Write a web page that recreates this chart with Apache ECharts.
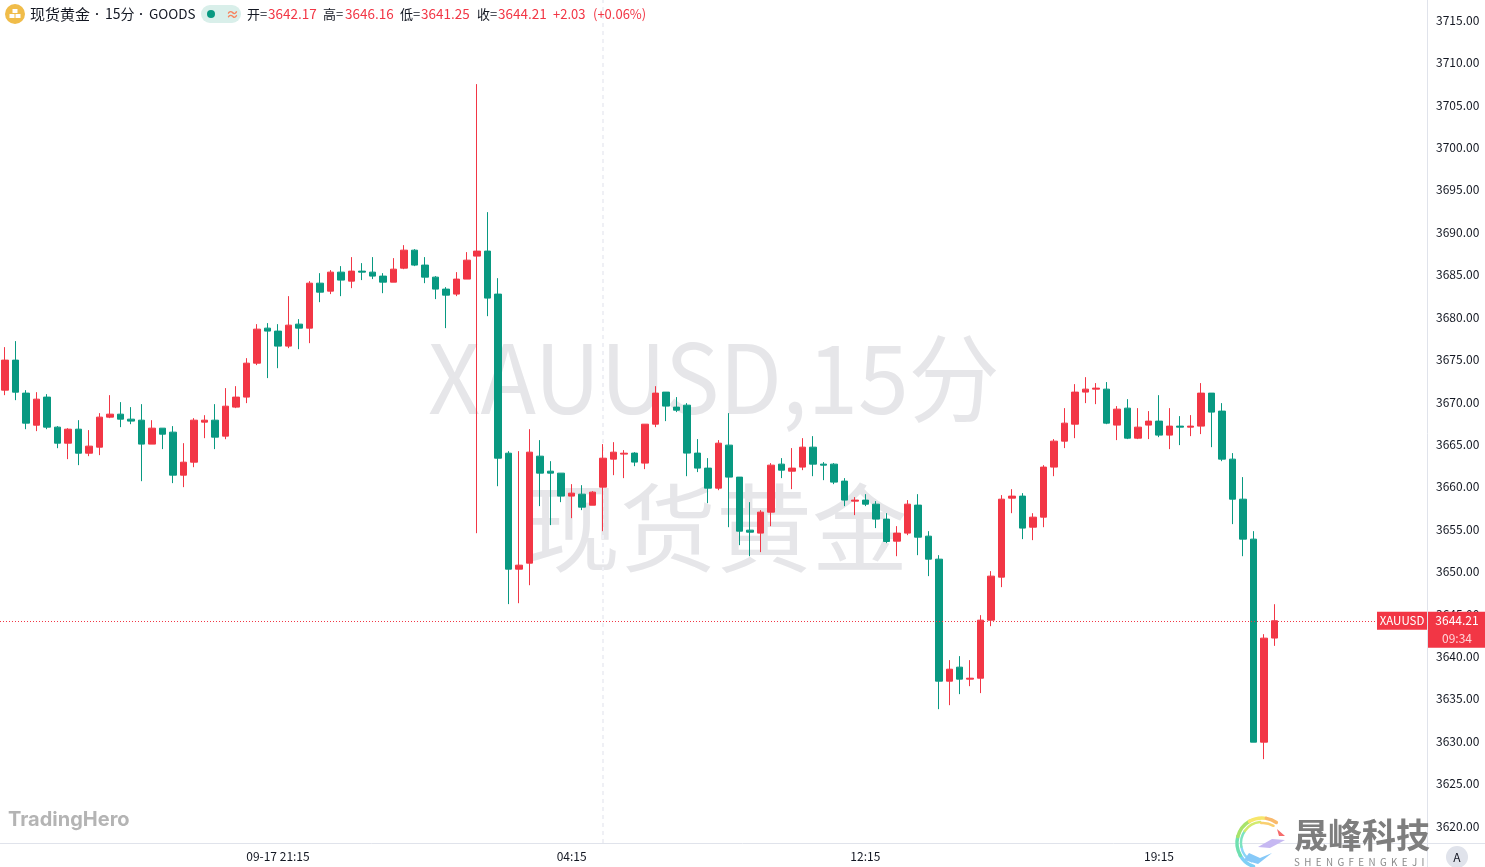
<!DOCTYPE html>
<html>
<head>
<meta charset="utf-8">
<style>html,body{margin:0;padding:0;background:#fff}#c{width:1485px;height:867px}</style>
<script src="https://cdn.jsdelivr.net/npm/echarts@6/dist/echarts.min.js"></script>
</head>
<body>
<div id="c"></div>
<script>
const opens = [3671.39,3674.93,3671.04,3667.26,3670.57,3667.03,3665.14,3666.79,3663.96,3664.67,3668.21,3668.56,3667.97,3667.85,3665.03,3666.91,3666.44,3661.37,3662.90,3667.62,3667.85,3665.97,3669.39,3670.57,3674.57,3678.70,3678.35,3676.58,3679.17,3678.70,3684.00,
3683.06,3685.30,3684.24,3685.42,3685.30,3684.83,3684.12,3685.77,3687.89,3686.13,3684.71,3683.30,3682.71,3684.48,3687.19,3687.78,3682.71,3663.96,3650.29,3651.00,3663.61,3661.84,3661.61,3658.90,3659.13,3657.83,3659.96,3663.26,3663.85,
3663.97,3662.79,3667.38,3671.16,3669.39,3669.62,3663.97,3662.20,3659.84,3664.91,3661.14,3654.89,3654.54,3657.01,3662.67,3661.84,3662.32,3664.67,3662.67,3662.67,3660.67,3658.31,3658.43,3657.95,3656.19,3653.59,3654.54,3657.84,3654.18,
3651.47,3637.09,3638.74,3637.33,3637.44,3644.28,3649.35,3658.66,3658.90,3655.24,3656.42,3662.32,3665.38,3667.38,3671.16,3671.51,3671.51,3667.27,3669.27,3665.73,3667.27,3667.74,3666.09,3667.15,3667.03,3667.15,3671.04,3668.92,3663.26,3658.54,3653.83,3629.90,3642.17];
const closes = [3674.93,3671.15,3667.50,3670.33,3667.03,3665.14,3666.79,3663.96,3664.79,3668.21,3668.56,3667.97,3667.74,3665.03,3666.91,3666.20,3661.37,3662.90,3667.85,3667.85,3665.85,3669.50,3670.57,3674.57,3678.58,3678.35,3676.58,3679.05,3678.70,3684.00,3682.94,
3685.30,3684.36,3685.42,3685.30,3684.83,3684.12,3685.65,3687.89,3686.13,3684.71,3683.30,3682.59,3684.48,3686.71,3687.78,3682.24,3663.37,3650.29,3650.76,3664.08,3661.61,3661.61,3658.90,3659.25,3657.60,3659.37,3663.37,3664.08,3663.96,
3662.91,3667.38,3671.04,3669.51,3669.03,3663.97,3662.20,3659.84,3665.14,3661.14,3654.77,3654.65,3657.01,3662.55,3661.96,3662.20,3664.67,3662.67,3662.55,3660.55,3658.43,3658.43,3657.95,3656.19,3653.55,3654.54,3657.95,3654.06,3651.47,
3637.09,3638.50,3637.33,3637.44,3644.28,3649.47,3658.54,3658.90,3655.13,3656.42,3662.32,3665.38,3667.50,3671.16,3671.51,3671.63,3667.50,3669.15,3665.73,3667.03,3667.74,3666.09,3667.15,3667.03,3667.15,3671.04,3668.80,3663.26,3658.54,3653.83,3629.90,3642.16,3644.21];
const lows = [3670.80,3670.21,3666.79,3666.56,3666.79,3664.55,3663.26,3662.55,3663.61,3663.73,3668.09,3667.03,3667.38,3660.66,3665.03,3664.44,3660.43,3659.96,3662.31,3665.73,3664.44,3665.61,3669.27,3669.86,3674.34,3672.81,3673.98,3676.34,3676.22,3676.93,3681.76,
3682.71,3682.47,3683.41,3684.36,3684.48,3682.82,3684.12,3685.65,3686.01,3684.00,3682.12,3678.70,3682.47,3684.48,3654.53,3680.11,3660.07,3646.17,3646.28,3648.40,3657.72,3655.48,3658.19,3656.30,3657.25,3657.83,3654.77,3661.37,3661.02,
3662.43,3662.08,3667.03,3667.74,3668.80,3661.25,3661.73,3658.07,3659.60,3655.24,3653.12,3651.82,3652.30,3655.36,3661.02,3659.72,3661.96,3661.25,3660.78,3660.31,3657.72,3656.66,3657.72,3655.13,3653.36,3651.82,3654.30,3651.94,3649.47,
3633.79,3634.26,3635.56,3636.50,3635.68,3643.57,3648.17,3656.89,3653.83,3653.71,3655.24,3661.25,3664.56,3665.73,3669.86,3669.74,3667.38,3665.50,3665.62,3665.62,3665.62,3665.85,3664.44,3664.91,3665.97,3666.21,3664.67,3663.02,3655.60,3651.82,3629.90,3627.90,3641.25];
const highs = [3676.46,3677.17,3671.39,3671.15,3670.92,3667.15,3666.91,3667.85,3666.68,3668.68,3670.80,3669.98,3669.39,3669.74,3667.85,3666.91,3667.15,3665.14,3668.09,3668.44,3669.74,3671.63,3671.86,3675.16,3679.17,3679.29,3679.17,3682.47,3679.76,3684.24,3685.18,
3685.54,3686.01,3687.07,3686.36,3687.07,3685.18,3686.95,3688.48,3688.01,3687.07,3684.83,3683.53,3685.30,3687.66,3707.46,3692.37,3684.59,3664.20,3664.20,3666.79,3665.50,3663.02,3661.61,3660.31,3660.19,3659.49,3665.03,3665.26,3664.32,
3664.08,3667.38,3671.86,3671.16,3670.57,3669.86,3665.62,3663.38,3665.50,3668.68,3661.14,3658.19,3657.25,3662.79,3663.38,3664.56,3665.73,3665.97,3662.91,3662.79,3661.02,3658.78,3659.13,3658.31,3656.89,3655.36,3658.43,3659.13,3654.77,
3651.94,3639.57,3640.04,3639.57,3644.87,3650.06,3659.02,3659.72,3659.25,3656.89,3662.55,3665.62,3669.27,3672.10,3672.92,3672.22,3672.34,3669.51,3670.33,3669.27,3668.92,3670.80,3669.27,3668.33,3668.45,3672.22,3671.04,3669.86,3663.97,3661.14,3654.77,3642.63,3646.16];

const tickValues = [3620,3625,3630,3635,3640,3645,3650,3655,3660,3665,3670,3675,3680,3685,3690,3695,3700,3705,3710,3715];
const tickLabels = {26:'09-17 21:15',54:'04:15',82:'12:15',110:'19:15'};
const crossIndex = 57;
const axisMin = 3618.015, axisMax = 3717.375;
const lastPrice = 3644.21, countdown = '09:34';
const ohlcText = ['3642.17','3646.16','3641.25','3644.21','+2.03','(+0.06%)'];

const RED='#F23645', GREEN='#089981', LINE='#E0E3EB', INK='#131722';
const FONT='"Noto Sans CJK SC","Noto Sans",sans-serif';
const categories=[];
for(let i=0;i<136;i++){categories.push(tickLabels[i]||('c'+i));}
const candles=opens.map((o,i)=>[o,closes[i],lows[i],highs[i]]);

const chart=echarts.init(document.getElementById('c'),null,{renderer:'canvas'});
chart.setOption({
  animation:false,
  backgroundColor:'#fff',
  grid:{left:-1.5,right:58.5,top:0,bottom:24,containLabel:false},
  xAxis:{type:'category',data:categories,boundaryGap:true,
    axisLine:{show:false},axisTick:{show:false},splitLine:{show:false},
    axisLabel:{interval:(i)=>tickLabels[i]!==undefined,color:INK,fontSize:12,fontFamily:FONT,margin:7,hideOverlap:false}},
  yAxis:{type:'value',position:'right',min:axisMin,max:axisMax,scale:true,
    axisLine:{show:false},axisTick:{show:false},splitLine:{show:false},
    axisLabel:{customValues:tickValues,color:INK,fontSize:12,fontFamily:FONT,margin:9.5,formatter:(v)=>v.toFixed(2)}},
  series:[
    {type:'line',data:[],z:1,silent:true,
      markLine:{silent:true,symbol:'none',animation:false,z:1,label:{show:false},
        data:[{xAxis:categories[crossIndex],lineStyle:{color:'#EFF0F5',type:[4,4],width:2}}]}},
    {type:'candlestick',data:candles,barWidth:7,clip:false,z:2,
      itemStyle:{color:RED,color0:GREEN,borderColor:RED,borderColor0:GREEN,borderWidth:1},
      markLine:{silent:true,symbol:'none',animation:false,label:{show:false},
        data:[{yAxis:lastPrice,lineStyle:{color:RED,type:[1,2],width:1}}]}}
  ]
});

const lastY=chart.convertToPixel({yAxisIndex:0},lastPrice);
const t=(x,y,text,opt)=>Object.assign({type:'text',x,y,z:(opt&&opt.z!==undefined)?opt.z:20,silent:true,style:Object.assign({text,fill:INK,font:'13px '+FONT,verticalAlign:'middle',align:'left'},opt&&opt.style)},opt&&opt.el);
const arc=(cx,cy,r,a,b,c,w)=>({type:'arc',z:22,silent:true,shape:{cx,cy,r,startAngle:a*Math.PI/180,endAngle:b*Math.PI/180,clockwise:true},style:{stroke:c,lineWidth:w,fill:null,lineCap:'round'}});
const PRICE='13.5px '+FONT;
const els=[
  t(428,378,'XAUUSD,15分',{z:0,el:{scaleX:0.95,originX:0},style:{font:'96px '+FONT,fill:'#E6E6E9'}}),
  t(524,528,'现货黄金',{z:0,style:{font:'96px '+FONT,fill:'#E6E6E9'}}),
  {type:'line',z:15,silent:true,shape:{x1:1427.5,y1:0,x2:1427.5,y2:867},style:{stroke:LINE,lineWidth:1}},
  {type:'line',z:15,silent:true,shape:{x1:0,y1:843.5,x2:1485,y2:843.5},style:{stroke:LINE,lineWidth:1}},
  // header
  {type:'circle',z:20,silent:true,shape:{cx:15,cy:14,r:10},style:{fill:'#F0BC49'}},
  {type:'rect',z:21,silent:true,shape:{x:12.5,y:9,width:5,height:4},style:{fill:'#fff'}},
  {type:'rect',z:21,silent:true,shape:{x:9.5,y:14,width:5,height:4},style:{fill:'#fff'}},
  {type:'rect',z:21,silent:true,shape:{x:15.5,y:14,width:5,height:4},style:{fill:'#fff'}},
  t(30,14,'现货黄金',{style:{font:'15px '+FONT}}),
  t(92,14,'•',{style:{font:'10px '+FONT}}),
  t(105,14,'15分',{style:{font:'14px '+FONT}}),
  t(136,14,'•',{style:{font:'10px '+FONT}}),
  t(149,14,'GOODS',{style:{font:'13.5px '+FONT}}),
  {type:'rect',z:20,silent:true,shape:{x:201,y:5,width:40,height:18,r:9},style:{fill:'#D9EFEA'}},
  {type:'circle',z:21,silent:true,shape:{cx:211,cy:14,r:4},style:{fill:GREEN}},
  t(226,14,'≈',{style:{font:'bold 13px '+FONT,fill:'#F7845F'}}),
  t(247,14,'开=',{}),t(268,14,ohlcText[0],{style:{fill:RED,font:PRICE}}),
  t(323,14,'高=',{}),t(345,14,ohlcText[1],{style:{fill:RED,font:PRICE}}),
  t(400,14,'低=',{}),t(421,14,ohlcText[2],{style:{fill:RED,font:PRICE}}),
  t(477,14,'收=',{}),t(498,14,ohlcText[3],{style:{fill:RED,font:PRICE}}),
  t(553,14,ohlcText[4],{style:{fill:RED}}),t(593,14,ohlcText[5],{style:{fill:RED}}),
  // price tags
  {type:'rect',z:30,silent:true,shape:{x:1377,y:lastY-9,width:50,height:18},style:{fill:RED}},
  {type:'rect',z:30,silent:true,shape:{x:1428,y:lastY-9,width:57,height:36},style:{fill:RED}},
  t(1402,lastY,'XAUUSD',{z:31,style:{font:'11.5px '+FONT,fill:'#fff',align:'center'}}),
  t(1457,lastY,lastPrice.toFixed(2),{z:31,style:{font:'12px '+FONT,fill:'#fff',align:'center'}}),
  t(1457,lastY+18,countdown,{z:31,style:{font:'12px '+FONT,fill:'#FFD5D9',align:'center'}}),
  // watermarks
  t(8,820,'TradingHero',{style:{font:'bold 20px Inter,'+FONT,fill:'#B4B4B4'}}),
  t(1294,835,'晟峰科技',{style:{font:'bold 34px '+FONT,fill:'#7E7E7E'}}),
  t(1294,862,'SHENGFENGKEJI'.split('').join('  '),{style:{font:'9.8px '+FONT,fill:'#8A8A8A'}}),
  // logo swirl
  arc(1262,843,25,110,150,'#7FD0F5',3.5),arc(1262,843,25,150,195,'#6FE0B0',3.5),arc(1262,843,25,195,240,'#A8E36A',3.5),
  arc(1262,843,25,240,280,'#F7E66B',3.5),arc(1262,843,25,280,305,'#F9B96B',3.5),
  arc(1262,843,21,120,170,'#8BD6F7',2.5),arc(1262,843,21,170,215,'#7DE3C0',2.5),arc(1262,843,21,215,265,'#D2EA6D',2.5),arc(1263,844,21,265,300,'#F9CF70',2.5),
  {type:'polygon',z:22,silent:true,shape:{points:[[1277,829],[1285,836],[1279,836]]},style:{fill:'#F66B6B'}},
  {type:'polygon',z:22,silent:true,shape:{points:[[1258,847],[1272,839],[1285,840],[1270,848]]},style:{fill:'#C6B8F2'}},
  {type:'polygon',z:22,silent:true,shape:{points:[[1249,853],[1260,858],[1272,853],[1258,864],[1244,860]]},style:{fill:'#86C9F8'}},
  // auto button
  {type:'circle',z:20,silent:true,shape:{cx:1457,cy:857,r:11},style:{fill:'#E0E3EB'}},
  t(1457,857,'A',{z:21,style:{font:'12px '+FONT,align:'center'}})
];
chart.setOption({graphic:{elements:els}});
</script>
</body>
</html>
